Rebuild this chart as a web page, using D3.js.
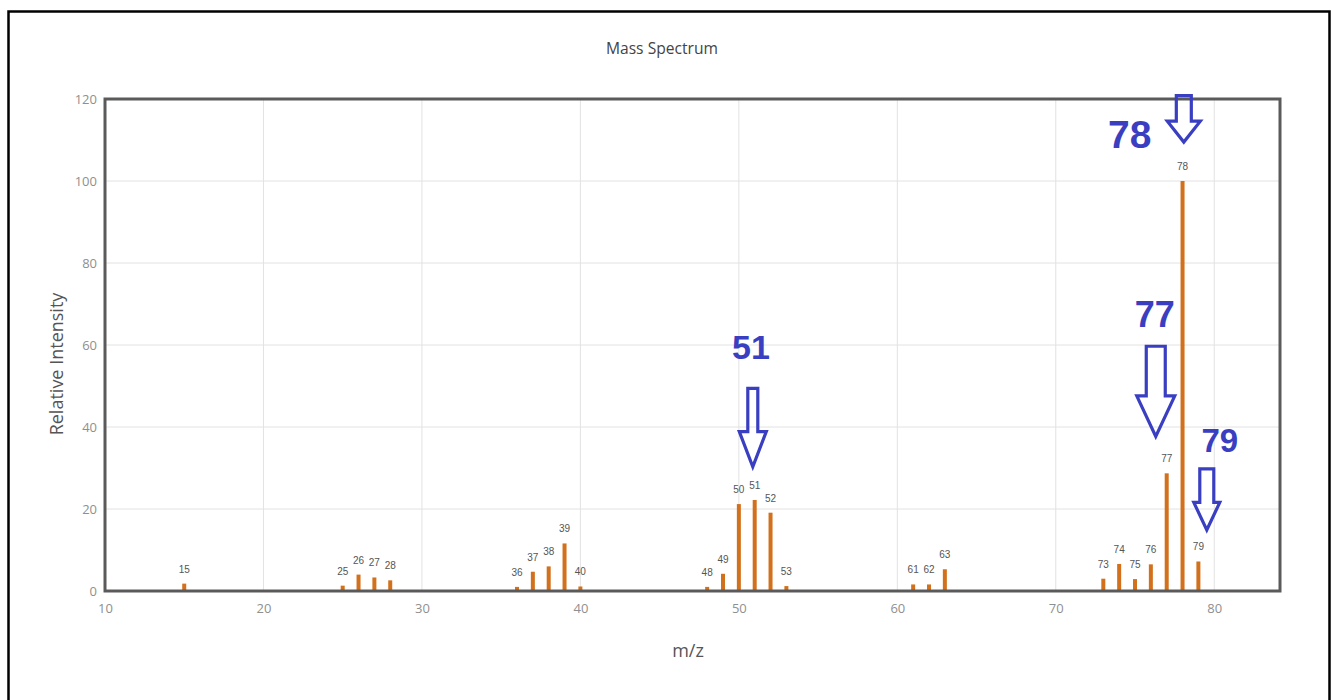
<!DOCTYPE html>
<html>
<head>
<meta charset="utf-8">
<script src="https://cdn.jsdelivr.net/npm/d3@7"></script>
<style>
  body { margin: 0; background: #fff; }
  svg { display: block; }
</style>
</head>
<body>
<svg id="chart" width="1331" height="700"></svg>
<script>
// peaks
const mz = [15, 25, 26, 27, 28, 36, 37, 38, 39, 40, 48, 49, 50, 51, 52, 53, 61, 62, 63, 73, 74, 75, 76, 77, 78, 79];
const intensity = [1.8, 1.3, 4, 3.3, 2.6, 1, 4.7, 6, 11.6, 1.1, 1, 4.2, 21.2, 22.2, 19.1, 1.2, 1.6, 1.6, 5.3, 3, 6.6, 2.9, 6.5, 28.7, 100, 7.2];
const xTicks = [10, 20, 30, 40, 50, 60, 70, 80];
const yTicks = [0, 20, 40, 60, 80, 100, 120];

// hand drawn arrows (data units)
const noteLabels = ['51', '77', '78', '79'];
const noteArrowX = [50.88, 76.31, 78.08, 79.53];
const noteArrowTop = [49.4, 59.7, 120.8, 29.8];
const noteArrowTip = [30.3, 37.7, 109.5, 14.9];
const noteTextX = [50.76, 76.25, 74.67, 80.35];
const noteTextY = [56.5, 64.5, 108.1, 34];

const svg = d3.select('#chart');
const margin = { left: 105, top: 99, right: 51, bottom: 109 };
const W = 1331, H = 700;
const font = 'Open Sans, sans-serif';

const x = d3.scaleLinear().domain([10, 84.15]).range([margin.left, W - margin.right]);
const y = d3.scaleLinear().domain([0, 120]).range([H - margin.bottom, margin.top]);

// outer border of the screenshot
svg.append('path')
  .attr('d', 'M8.5,700 L8.5,11.5 L1329.5,11.5 L1329.5,700')
  .attr('fill', 'none').attr('stroke', '#000').attr('stroke-width', 2.5);

svg.append('text')
  .attr('x', 662).attr('y', 54)
  .attr('text-anchor', 'middle')
  .attr('font-family', font)
  .attr('font-size', 17).attr('fill', '#444')
  .attr('transform', 'translate(662,0) scale(0.92,1) translate(-662,0)')
  .text('Mass Spectrum');

// grid
const grid = svg.append('g');
grid.selectAll('.gx').data(xTicks.slice(1)).enter().append('line')
  .attr('x1', d => x(d)).attr('x2', d => x(d))
  .attr('y1', y(120)).attr('y2', y(0))
  .attr('stroke', '#e2e2e2').attr('stroke-width', 1);
grid.selectAll('.gy').data(yTicks.slice(1)).enter().append('line')
  .attr('x1', x(10)).attr('x2', x(84.15))
  .attr('y1', d => y(d)).attr('y2', d => y(d))
  .attr('stroke', '#e2e2e2').attr('stroke-width', 1);

// axes
const xAxis = svg.append('g')
  .attr('transform', `translate(0,${y(0)})`)
  .call(d3.axisBottom(x).tickValues(xTicks).tickSize(0).tickPadding(13));
const yAxis = svg.append('g')
  .attr('transform', `translate(${x(10)},0)`)
  .call(d3.axisLeft(y).tickValues(yTicks).tickSize(0).tickPadding(8));
[xAxis, yAxis].forEach(a => {
  a.select('.domain').remove();
  a.selectAll('text')
    .attr('font-family', font)
    .attr('font-size', 13).attr('fill', '#8f8f8f');
});

// bars
const peaks = mz.map((m, i) => ({ m, v: intensity[i] }));
svg.append('g').selectAll('rect').data(peaks).enter().append('rect')
  .attr('x', d => x(d.m) - 2)
  .attr('width', 4)
  .attr('y', d => y(d.v))
  .attr('height', d => y(0) - y(d.v))
  .attr('fill', '#d2701c');

svg.append('g').selectAll('text').data(peaks).enter().append('text')
  .attr('x', d => x(d.m))
  .attr('y', d => y(d.v) - 11)
  .attr('text-anchor', 'middle')
  .attr('font-family', 'Liberation Sans, Arial, sans-serif')
  .attr('font-size', 10).attr('fill', '#555')
  .text(d => d.m);

// plot frame
svg.append('rect')
  .attr('x', x(10)).attr('y', y(120))
  .attr('width', x(84.15) - x(10)).attr('height', y(0) - y(120))
  .attr('fill', 'none').attr('stroke', '#5a5a5a').attr('stroke-width', 3);

// axis titles
svg.append('text')
  .attr('x', 688).attr('y', 657)
  .attr('text-anchor', 'middle')
  .attr('font-family', font)
  .attr('font-size', 18).attr('fill', '#555')
  .text('m/z');
svg.append('text')
  .attr('transform', 'translate(63,364) rotate(-90)')
  .attr('text-anchor', 'middle')
  .attr('font-family', font)
  .attr('font-size', 18).attr('fill', '#555')
  .text('Relative Intensity');

// annotation arrows
const notes = noteLabels.map((t, i) => ({
  t, ax: noteArrowX[i], top: noteArrowTop[i], tip: noteArrowTip[i], tx: noteTextX[i], ty: noteTextY[i]
}));
const noteSize = { '51': [5, 13.5, 34], '77': [9.5, 19, 36], '78': [7.5, 16.5, 39], '79': [7, 13, 33] };
const blue = '#3a3fc1';
const ann = svg.append('g');
notes.forEach(n => {
  const [sw, hw, fs] = noteSize[n.t];
  const cx = x(n.ax), yt = y(n.top), yp = y(n.tip);
  const headLen = (yp - yt) * 0.45;
  const yh = yp - headLen;
  const p = d3.path();
  p.moveTo(cx - sw, yt);
  p.lineTo(cx + sw, yt);
  p.lineTo(cx + sw, yh);
  p.lineTo(cx + hw, yh);
  p.lineTo(cx, yp);
  p.lineTo(cx - hw, yh);
  p.lineTo(cx - sw, yh);
  p.closePath();
  ann.append('path').attr('d', p.toString())
    .attr('fill', 'none').attr('stroke', blue).attr('stroke-width', 3.2)
    .attr('stroke-linejoin', 'miter');
  ann.append('text')
    .attr('x', x(n.tx)).attr('y', y(n.ty))
    .attr('text-anchor', 'middle')
    .attr('font-family', 'Liberation Sans, Arial, sans-serif')
    .attr('font-weight', 'bold')
    .attr('font-size', fs).attr('fill', blue)
    .text(n.t);
});
</script>
</body>
</html>
